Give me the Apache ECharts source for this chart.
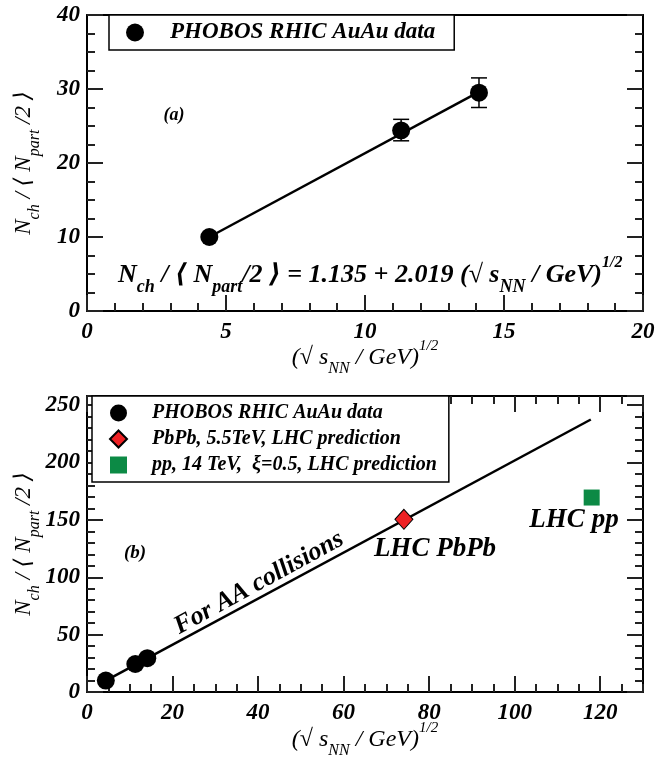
<!DOCTYPE html>
<html>
<head>
<meta charset="utf-8">
<script src="https://cdn.jsdelivr.net/npm/echarts@6/dist/echarts.min.js"></script>
<style>
  html, body { margin: 0; padding: 0; background: #fff; }
  #chart { width: 669px; height: 757px; }
</style>
</head>
<body>
<div id="chart"></div>
<script>
// ---- data ----
// panel (a): PHOBOS RHIC AuAu points
const auauX = [4.4, 11.3, 14.1]
const auauY = [10.0, 24.4, 29.5]
// error bars (only the two upper points have visible ones)
const errX = [11.3, 14.1]
const errLow = [23.0, 27.5]
const errHigh = [25.9, 31.5]
// straight fit line, read at both ends
const fitAX = [4.4, 14.1]
const fitAY = [10.0, 29.6]

// panel (b)
const fitBX = [4.4, 117.8]
const fitBY = [10.0, 237.5]
const pbpbX = [74.1]
const pbpbY = [150.5]
const ppX = [118.0]
const ppY = [169.5]

// axis ranges
const xRangeA = [0, 20]
const yRangeA = [0, 40]
const xRangeB = [0, 130]
const yRangeB = [0, 258]

const SERIF = "'Liberation Serif', 'DejaVu Serif', serif"
const nameAuAu = "PHOBOS RHIC AuAu data"
const namePbPb = "PbPb, 5.5TeV, LHC prediction"
const namePP = "pp, 14 TeV,  \u03be=0.5, LHC prediction"

function pairs(xs, ys) {
  return xs.map((x, i) => [x, ys[i]])
}

// rich text styles for sub / superscripts
function richSet(size, weight) {
  let base = { fontFamily: SERIF, fontStyle: "italic", fontWeight: weight, color: "#000" }
  let shift = Math.round(size * 0.95)
  return {
    m: { ...base, fontSize: size, verticalAlign: "middle" },
    sub: { ...base, fontSize: Math.round(size * 0.68), verticalAlign: "middle", padding: [shift, 0, 0, 0] },
    sup: { ...base, fontSize: Math.round(size * 0.62), verticalAlign: "middle", padding: [0, 0, shift, 0] },
  }
}
const yTitle = "{m|N}{sub|ch}{m| / \u27e8 N}{sub|part}{m| /2 \u27e9}"
const xTitle = "{m|(\u221a s}{sub|NN}{m| / GeV)}{sup|1/2}"
const formula =
  "{m|N}{sub|ch}{m| / \u27e8 N}{sub|part}{m|/2 \u27e9 = 1.135 + 2.019 (\u221a s}{sub|NN}{m| / GeV)}{sup|1/2}"

const tickLabel = { fontFamily: SERIF, fontStyle: "italic", fontWeight: "bold", fontSize: 23, color: "#000" }
const frameLine = { show: true, onZero: false, lineStyle: { color: "#000", width: 2 } }
const noLine = { show: false, onZero: false }
const tickStyle = { color: "#222", width: 2 }

// one axis of a frame; pos decides which side it sits on
function axis(grid, pos, range, interval, opts) {
  opts = opts || {}
  return {
    type: "value",
    gridIndex: grid,
    position: pos,
    min: range[0],
    max: range[1],
    interval: interval,
    axisLine: opts.line === false ? noLine : frameLine,
    axisTick: {
      show: opts.tick !== false,
      inside: true,
      length: opts.tickLen || 16,
      lineStyle: tickStyle,
    },
    minorTick: opts.minor
      ? { show: true, splitNumber: opts.minor, length: 8, lineStyle: tickStyle }
      : { show: false },
    axisLabel: opts.label
      ? { show: true, ...tickLabel, margin: opts.margin, showMaxLabel: opts.showMax !== false }
      : { show: false },
    splitLine: { show: false },
    name: opts.name || "",
    nameLocation: "middle",
    nameGap: opts.nameGap || 0,
    nameRotate: opts.nameRotate,
    nameMoveOverlap: false,
    nameTextStyle: opts.name ? { rich: richSet(opts.nameSize || 23, "normal") } : undefined,
  }
}

const chart = echarts.init(document.getElementById("chart"), null, { renderer: "canvas" })

const option = {
  animation: false,
  backgroundColor: "#fff",
  grid: [
    { left: 87, top: 15, width: 556, height: 296, outerBoundsMode: "none", containLabel: false },
    { left: 87, top: 396, width: 556, height: 296, outerBoundsMode: "none", containLabel: false },
  ],
  xAxis: [
    axis(0, "bottom", xRangeA, 5, { minor: 5, label: true, margin: 10, name: xTitle, nameGap: 27, nameSize: 24 }),
    axis(0, "top", xRangeA, 5, { tick: false }),
    axis(1, "bottom", xRangeB, 20, { label: true, margin: 10, showMax: false, name: xTitle, nameGap: 28, nameSize: 24 }),
    axis(1, "top", xRangeB, 20, {}),
    axis(1, "bottom", xRangeB, 5, { line: false, tickLen: 8 }),
    axis(1, "top", xRangeB, 5, { line: false, tickLen: 8 }),
  ],
  yAxis: [
    axis(0, "left", yRangeA, 10, { minor: 4, label: true, margin: 7, name: yTitle, nameGap: 44, nameRotate: 90 }),
    axis(0, "right", yRangeA, 10, { minor: 4 }),
    axis(1, "left", yRangeB, 50, { label: true, margin: 7, showMax: false, name: yTitle, nameGap: 44, nameRotate: 90 }),
    axis(1, "right", yRangeB, 50, {}),
    axis(1, "left", yRangeB, 10, { line: false, tickLen: 8 }),
    axis(1, "right", yRangeB, 10, { line: false, tickLen: 8 }),
  ],
  legend: [
    {
      left: 109,
      top: 15,
      orient: "vertical",
      data: [{ name: nameAuAu, icon: "circle" }],
      itemWidth: 18,
      itemHeight: 18,
      padding: [6, 19, 6, 17],
      borderColor: "#000",
      borderWidth: 1.5,
      borderRadius: 0,
      backgroundColor: "#fff",
      selectedMode: false,
      textStyle: { fontFamily: SERIF, fontStyle: "italic", fontWeight: "bold", fontSize: 23, color: "#000", padding: [0, 0, 0, 21] },
    },
    {
      left: 92,
      top: 396,
      orient: "vertical",
      data: [
        { name: nameAuAu, icon: "circle" },
        { name: namePbPb, icon: "diamond" },
        { name: namePP, icon: "rect" },
      ],
      itemWidth: 17,
      itemHeight: 17,
      itemGap: 6,
      padding: [7, 12, 7, 17],
      borderColor: "#000",
      borderWidth: 1.5,
      borderRadius: 0,
      backgroundColor: "#fff",
      selectedMode: false,
      textStyle: { fontFamily: SERIF, fontStyle: "italic", fontWeight: "bold", fontSize: 20, color: "#000", padding: [0, 0, 0, 20] },
    },
  ],
  series: [
    {
      name: "fit a",
      type: "line",
      xAxisIndex: 0,
      yAxisIndex: 0,
      data: pairs(fitAX, fitAY),
      symbol: "none",
      lineStyle: { color: "#000", width: 2.5 },
      z: 2,
    },
    {
      name: "errors a",
      type: "custom",
      xAxisIndex: 0,
      yAxisIndex: 0,
      data: errX.map((x, i) => [x, errLow[i], errHigh[i]]),
      encode: { x: 0, y: [1, 2] },
      renderItem(params, api) {
        let lo = api.coord([api.value(0), api.value(1)])
        let hi = api.coord([api.value(0), api.value(2)])
        let w = 8
        let st = { stroke: "#000", lineWidth: 1.5 }
        return {
          type: "group",
          children: [
            { type: "line", shape: { x1: lo[0], y1: lo[1], x2: hi[0], y2: hi[1] }, style: st },
            { type: "line", shape: { x1: lo[0] - w, y1: lo[1], x2: lo[0] + w, y2: lo[1] }, style: st },
            { type: "line", shape: { x1: hi[0] - w, y1: hi[1], x2: hi[0] + w, y2: hi[1] }, style: st },
          ],
        }
      },
      z: 3,
    },
    {
      name: nameAuAu,
      type: "scatter",
      xAxisIndex: 0,
      yAxisIndex: 0,
      data: pairs(auauX, auauY),
      symbol: "circle",
      symbolSize: 18,
      itemStyle: { color: "#000", opacity: 1 },
      z: 4,
    },
    {
      name: "fit b",
      type: "line",
      xAxisIndex: 2,
      yAxisIndex: 2,
      data: pairs(fitBX, fitBY),
      symbol: "none",
      lineStyle: { color: "#000", width: 2.5 },
      z: 2,
    },
    {
      name: nameAuAu,
      type: "scatter",
      xAxisIndex: 2,
      yAxisIndex: 2,
      data: pairs(auauX, auauY),
      symbol: "circle",
      symbolSize: 18,
      itemStyle: { color: "#000", opacity: 1 },
      z: 4,
    },
    {
      name: namePbPb,
      type: "scatter",
      xAxisIndex: 2,
      yAxisIndex: 2,
      data: pairs(pbpbX, pbpbY),
      symbol: "diamond",
      symbolSize: [18, 20],
      itemStyle: { color: "#ee2124", borderColor: "#000", borderWidth: 1, opacity: 1 },
      z: 4,
    },
    {
      name: namePP,
      type: "scatter",
      xAxisIndex: 2,
      yAxisIndex: 2,
      data: pairs(ppX, ppY),
      symbol: "rect",
      symbolSize: 16,
      itemStyle: { color: "#0c8a45", opacity: 1 },
      z: 4,
    },
  ],
  graphic: [
    {
      type: "text", x: 174, y: 115,
      style: { text: "(a)", font: "italic bold 18px " + SERIF, fill: "#000", align: "center", verticalAlign: "middle" },
    },
    {
      type: "text", x: 118, y: 275,
      style: { text: formula, rich: richSet(26, "bold"), align: "left", verticalAlign: "middle" },
    },
    {
      type: "text", x: 135, y: 553,
      style: { text: "(b)", font: "italic bold 19px " + SERIF, fill: "#000", align: "center", verticalAlign: "middle" },
    },
    {
      type: "text", x: 435, y: 549,
      style: { text: "LHC PbPb", font: "italic bold 27px " + SERIF, fill: "#000", align: "center", verticalAlign: "middle" },
    },
    {
      type: "text", x: 574, y: 520,
      style: { text: "LHC pp", font: "italic bold 27px " + SERIF, fill: "#000", align: "center", verticalAlign: "middle" },
    },
    {
      type: "text", x: 259, y: 583, rotation: (28.7 * Math.PI) / 180,
      style: { text: "For AA collisions", font: "italic bold 26px " + SERIF, fill: "#000", align: "center", verticalAlign: "middle" },
    },
  ],
}

chart.setOption(option)
</script>
</body>
</html>
